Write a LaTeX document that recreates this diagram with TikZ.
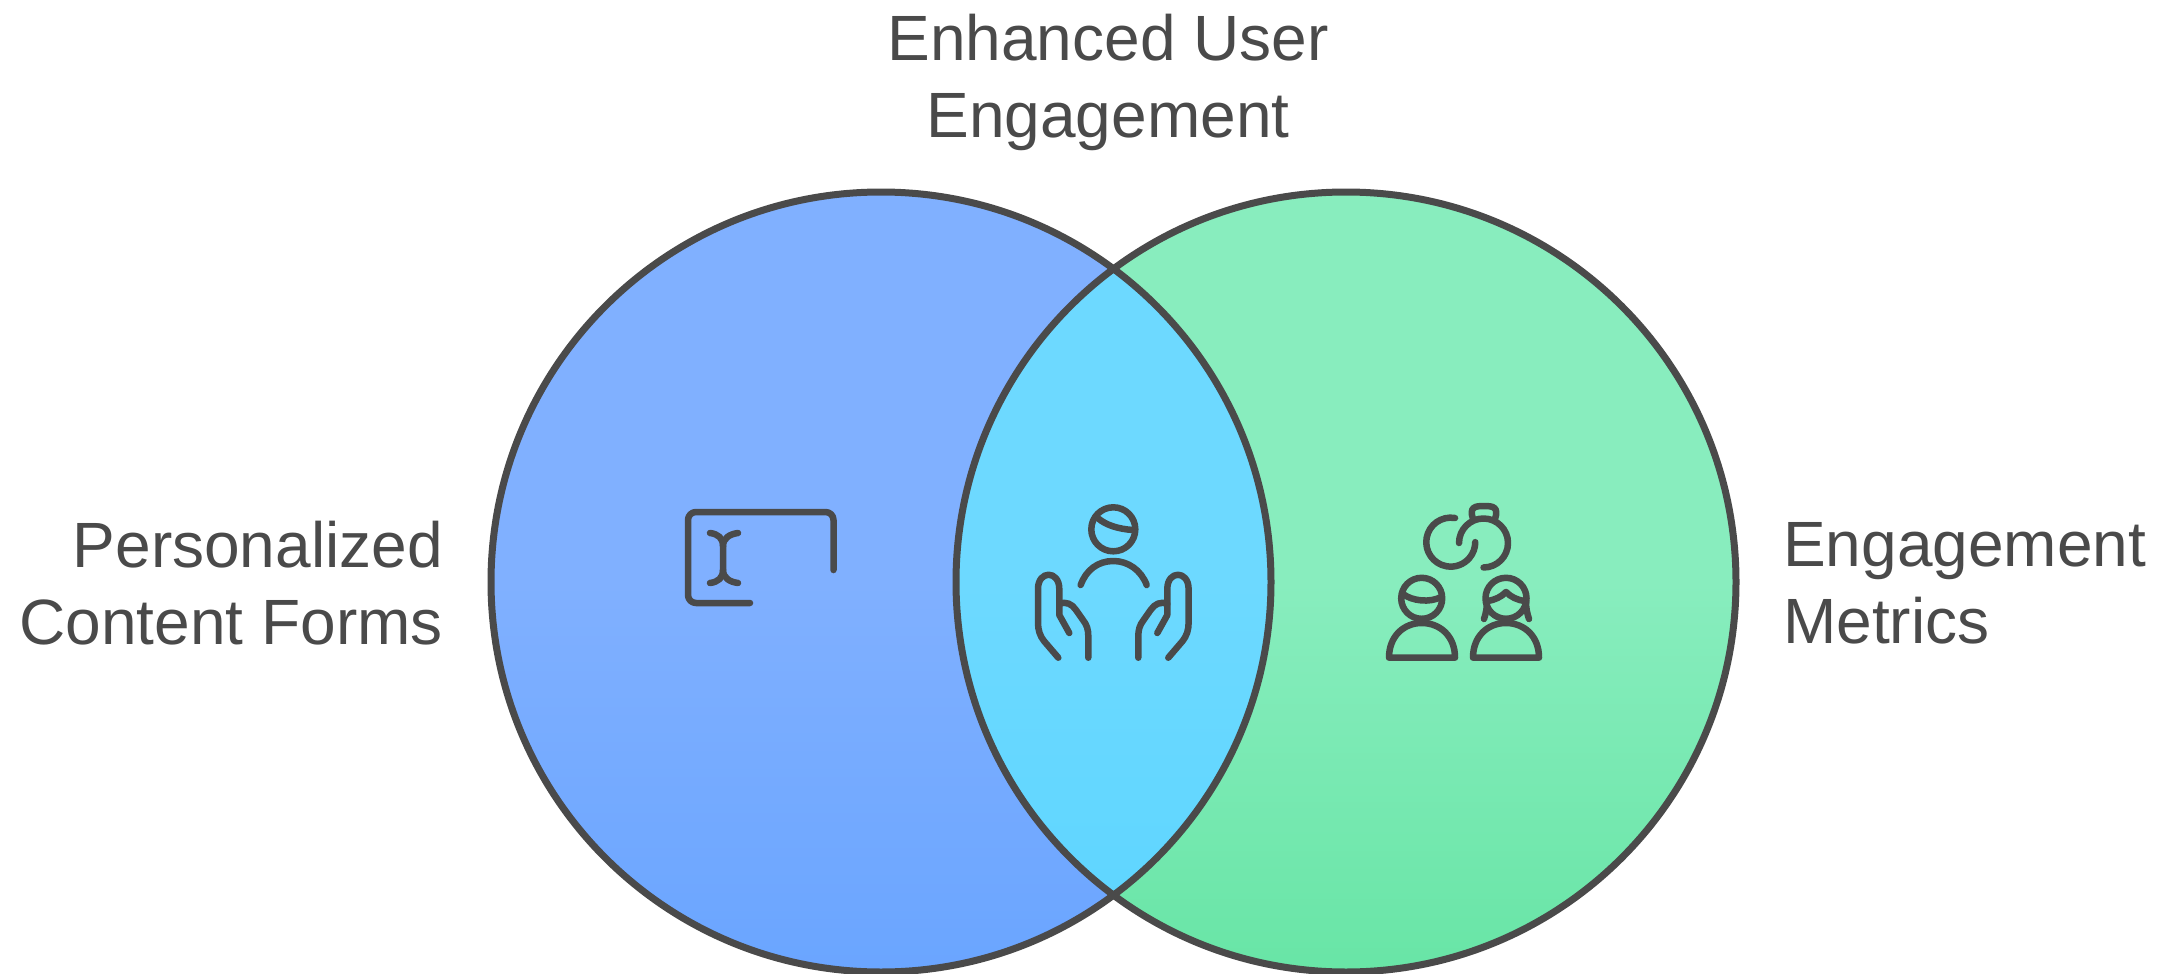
\documentclass[tikz,border=0pt]{standalone}
\usepackage{fontspec}
\setmainfont{Liberation Sans}
\usetikzlibrary{positioning}
\definecolor{inkgrey}{HTML}{4A4A4A}
\definecolor{formstop}{HTML}{80B0FF}
\definecolor{formsbot}{HTML}{6AA5FF}
\definecolor{metricstop}{HTML}{88EDBE}
\definecolor{metricsbot}{HTML}{68E5A6}
\definecolor{lenstop}{HTML}{6DD9FF}
\definecolor{lensbot}{HTML}{5CD5FF}
\tikzset{
  venn/.style={circle,minimum size=780pt,inner sep=0pt},
  outline/.style={draw=inkgrey,line width=7pt},
  icon/.style={draw=inkgrey,line width=6.5pt,line cap=round,line join=round},
  label/.style={text=inkgrey,inner sep=0pt,font=\fontsize{64}{77}\selectfont}
}
\begin{document}
\begin{tikzpicture}[x=1pt,y=-1pt]
\useasboundingbox (0,0) rectangle (2172,974);
\node[venn,shade,top color=formstop,bottom color=formsbot,middle color=formstop] (forms) at (881,582) {};
\node[venn,shade,top color=metricstop,bottom color=metricsbot,middle color=metricstop] (metrics) at (1346,582) {};
\begin{scope}
  \clip (881,582) circle[radius=390];
  \shade[top color=lenstop,bottom color=lensbot,middle color=lenstop] (1346,582) circle[radius=390];
\end{scope}
\draw[outline] (881,582) circle[radius=390];
\draw[outline] (1346,582) circle[radius=390];

\node[label,align=center] (enhanced) at (1108,82) {Enhanced User\\Engagement};
\node[label,align=right,anchor=east] (personalized) at (443,583) {Personalized\\Content Forms};
\node[label,align=left,anchor=west] (engagement) at (1783,583) {Engagement\\Metrics};

% form icon
\draw[icon,rounded corners=8pt] (833.5,570) -- (833.5,512) -- (688,512) -- (688,603) -- (750,603);
\draw[icon] (710,533) .. controls (718,534) and (723,538) .. (723,546) -- (723,570)
  .. controls (723,578) and (718,582) .. (710,583);
\draw[icon] (738,533) .. controls (730,534) and (723,538) .. (723,546)
  (723,570) .. controls (723,578) and (730,582) .. (738,583);

% person in hands icon
\draw[icon] (1113.3,529.3) circle[radius=22];
\draw[icon] (1098.3,518.5) .. controls (1106,525) and (1118,529) .. (1133,530);
\draw[icon] (1080.7,585) .. controls (1086,570) and (1098,561) .. (1113.3,561)
  .. controls (1128,561) and (1141,570) .. (1146.7,585);
\draw[icon] (1058.3,657.7) -- (1044,641) .. controls (1040,636) and (1038,630) .. (1038,623)
  -- (1038,589) .. controls (1038,570) and (1059.3,570) .. (1059.3,589)
  -- (1059.3,615) -- (1069.3,633);
\draw[icon] (1059.3,604) .. controls (1066,601) and (1072,604) .. (1076,610)
  -- (1083,620) .. controls (1087,625) and (1088.3,630) .. (1088.3,636) -- (1088.3,657.7);
\draw[icon] (1168.3,657.7) -- (1182.6,641) .. controls (1186.6,636) and (1188.6,630) .. (1188.6,623)
  -- (1188.6,589) .. controls (1188.6,570) and (1167.3,570) .. (1167.3,589)
  -- (1167.3,615) -- (1157.3,633);
\draw[icon] (1167.3,604) .. controls (1160.6,601) and (1154.6,604) .. (1150.6,610)
  -- (1143.6,620) .. controls (1139.6,625) and (1138.3,630) .. (1138.3,636) -- (1138.3,657.7);

% metrics icon
\draw[icon] (1455,518) arc[start angle=-80,end angle=-360,radius=24.5];
\draw[icon] (1459,543) arc[start angle=180,end angle=450,radius=24.5];
\draw[icon] (1473,519) .. controls (1469,507) and (1475,506) .. (1484,506)
  .. controls (1493,506) and (1499,507) .. (1495,519);
\draw[icon] (1421.7,598.3) circle[radius=20.5];
\draw[icon] (1403,594) .. controls (1412,601) and (1430,603) .. (1441,597);
\draw[icon] (1389,657.7) .. controls (1389,636) and (1404,623) .. (1421.7,623)
  .. controls (1440,623) and (1455,636) .. (1455,657.7) -- cycle;
\draw[icon] (1506,598.3) circle[radius=20.5];
\draw[icon] (1487,601) .. controls (1495,600) and (1501,597) .. (1506,592)
  .. controls (1511,597) and (1517,600) .. (1525,601);
\draw[icon] (1484,619) .. controls (1486,613) and (1487,608) .. (1487,601);
\draw[icon] (1529,619) .. controls (1527,613) and (1526,608) .. (1526,601);
\draw[icon] (1473,657.7) .. controls (1473,636) and (1488,623) .. (1506,623)
  .. controls (1524,623) and (1539,636) .. (1539,657.7) -- cycle;
\end{tikzpicture}
\end{document}
